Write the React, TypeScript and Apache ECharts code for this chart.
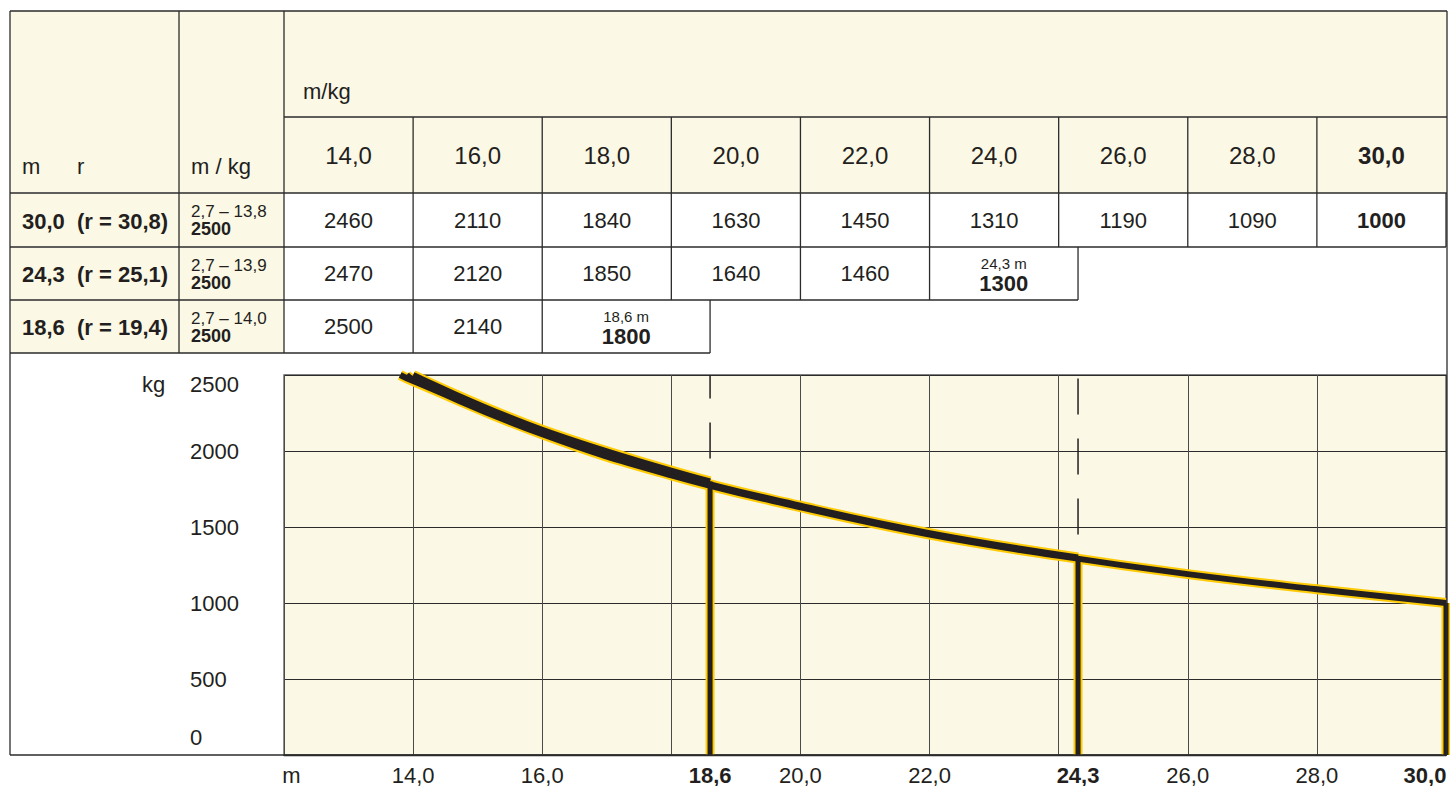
import React, { useEffect, useRef } from 'react';
import * as echarts from 'echarts';

// ---------- data ----------
const distances = [14, 16, 18, 20, 22, 24, 26, 28, 30];
const boomLengths = [30.0, 24.3, 18.6];
const boomRadii = [30.8, 25.1, 19.4];
const rangeStart = 2.7;
const rangeEnds = [13.8, 13.9, 14.0];
const maxLoads = [2500, 2500, 2500];
const loads300 = [2460, 2110, 1840, 1630, 1450, 1310, 1190, 1090, 1000];
const loads243 = [2470, 2120, 1850, 1640, 1460];
const loads186 = [2500, 2140];
const endLoads = [1000, 1300, 1800];
const guideX = [18.6, 24.3];
const guideFrom = [1950, 1450];
const guideTo = [2500, 2500];
const xLabelValues = [12, 14, 16, 18.6, 20, 22, 24.3, 26, 28, 30];
const yMin = 0;
const yMax = 2500;
const xMin = 12;
const xMax = 30;

const loadRows = [loads300, loads243, loads186];

const FONT = '"Liberation Sans", Arial, Helvetica, sans-serif';
const INK = '#231f20';
const LINE = '#2b2b2b';
const CREAM = '#fcf8e6';
const YELLOW = '#ffcb05';

const fmt = (v: number) => v.toFixed(1).replace('.', ',');

function curve(i: number): number[][] {
  const pts: number[][] = [[rangeEnds[i], maxLoads[i]]];
  loadRows[i].forEach((v, j) => {
    if (distances[j] !== pts[pts.length - 1][0]) pts.push([distances[j], v]);
  });
  if (pts[pts.length - 1][0] !== boomLengths[i]) pts.push([boomLengths[i], endLoads[i]]);
  return pts;
}
function drop(i: number): number[][] {
  return [
    [boomLengths[i], endLoads[i]],
    [boomLengths[i], yMin],
  ];
}

function txt(x: number, y: number, text: string, size: number, opts: any = {}) {
  const align = opts.align || 'left';
  return {
    type: 'text',
    x,
    y,
    z: 20,
    silent: true,
    style: {
      text,
      fill: INK,
      fontFamily: FONT,
      fontSize: size,
      fontWeight: opts.bold ? 'bold' : 'normal',
      align,
      textAlign: align,
      verticalAlign: 'middle',
      textVerticalAlign: 'middle',
    },
  };
}
function ln(x1: number, y1: number, x2: number, y2: number) {
  return {
    type: 'line',
    z: 19,
    silent: true,
    shape: { x1, y1, x2, y2 },
    style: { stroke: LINE, lineWidth: 1.3 },
  };
}

export default function App() {
  const ref = useRef<HTMLDivElement>(null);

  useEffect(() => {
    if (!ref.current) return;
    const chart = echarts.init(ref.current, null, { renderer: 'svg' });

    const series: any[] = [];
    const SMOOTH = 0.45;
    [0, 1, 2].forEach((i) => {
      series.push({
        type: 'line',
        data: curve(i),
        smooth: SMOOTH,
        symbol: 'none',
        silent: true,
        z: 3,
        lineStyle: { color: YELLOW, width: 10, cap: 'butt', join: 'round' },
      });
      series.push({
        type: 'line',
        data: drop(i),
        symbol: 'none',
        silent: true,
        z: 3,
        lineStyle: { color: YELLOW, width: 9, cap: 'butt' },
      });
    });
    [0, 1, 2].forEach((i) => {
      series.push({
        type: 'line',
        data: curve(i),
        smooth: SMOOTH,
        symbol: 'none',
        silent: true,
        z: 4,
        lineStyle: { color: INK, width: 6, cap: 'butt', join: 'round' },
      });
      series.push({
        type: 'line',
        data: drop(i),
        symbol: 'none',
        silent: true,
        z: 4,
        lineStyle: { color: INK, width: 5, cap: 'butt' },
      });
    });
    guideX.forEach((gx, k) => {
      series.push({
        type: 'line',
        data: [
          [gx, guideFrom[k]],
          [gx, guideTo[k]],
        ],
        symbol: 'none',
        silent: true,
        z: 5,
        lineStyle: { color: INK, width: 1.5, type: [36, 24] },
      });
    });

    chart.setOption({
      animation: false,
      backgroundColor: '#ffffff',
      textStyle: { fontFamily: FONT, color: INK },
      grid: {
        left: 284,
        right: 4,
        top: 375,
        bottom: 31,
        show: true,
        backgroundColor: CREAM,
        borderColor: '#555',
        borderWidth: 1.3,
      },
      xAxis: {
        type: 'value',
        min: xMin,
        max: xMax,
        interval: 2,
        axisLine: { show: true, lineStyle: { color: LINE, width: 1.3 } },
        axisTick: { show: false },
        splitLine: { show: true, lineStyle: { color: '#4a4a4a', width: 1 } },
        axisLabel: {
          customValues: xLabelValues,
          showMinLabel: true,
          showMaxLabel: true,
          margin: 9,
          fontFamily: FONT,
          fontSize: 22,
          color: INK,
          formatter: (v: number) => {
            if (v === xMin) return '{m|m}';
            if (v === boomLengths[0]) return '{e|' + fmt(v) + '}';
            if (boomLengths.indexOf(v) >= 0) return '{b|' + fmt(v) + '}';
            return '{n|' + fmt(v) + '}';
          },
          rich: {
            m: { fontFamily: FONT, fontSize: 22, color: INK, padding: [0, 0, 0, 15] },
            n: { fontFamily: FONT, fontSize: 22, color: INK },
            b: { fontFamily: FONT, fontSize: 22, color: INK, fontWeight: 'bold' },
            e: { fontFamily: FONT, fontSize: 22, color: INK, fontWeight: 'bold', padding: [0, 42, 0, 0] },
          },
        },
      },
      yAxis: {
        type: 'value',
        min: yMin,
        max: yMax,
        interval: 500,
        axisLine: { show: false },
        axisTick: { show: false },
        splitLine: { show: true, lineStyle: { color: LINE, width: 1 } },
        axisLabel: {
          showMinLabel: false,
          showMaxLabel: false,
          margin: 94,
          align: 'left',
          fontFamily: FONT,
          fontSize: 22,
          color: INK,
          formatter: (v: number) => String(v),
        },
      },
      series,
    });

    const xp = (v: number) => chart.convertToPixel({ xAxisIndex: 0 }, v) as number;
    const yp = (v: number) => chart.convertToPixel({ yAxisIndex: 0 }, v) as number;

    const L = 10;
    const T = 11;
    const R = xp(xMax) + 1;
    const B = yp(yMin);
    const C1 = 179;
    const C2 = xp(xMin);
    const ySub = 117;
    const yHdr = 193;
    const rowTops = [193, 247, 300];
    const rowBottoms = [247, 300, 353];

    const colLeft = [xMin, ...distances.slice(0, -1)].map(xp);
    const colRight = distances.map(xp);

    const g: any[] = [];
    // backgrounds
    g.push({ type: 'rect', z: 1, silent: true, shape: { x: L, y: T, width: R - L, height: yHdr - T }, style: { fill: CREAM } });
    g.push({ type: 'rect', z: 1, silent: true, shape: { x: L, y: yHdr, width: C2 - L, height: rowBottoms[2] - yHdr }, style: { fill: CREAM } });

    // outer frame
    g.push(ln(L, T, R, T));
    g.push(ln(L, T, L, B));
    g.push(ln(R, T, R, B));
    g.push(ln(L, B, R, B));
    // fixed columns
    g.push(ln(C1, T, C1, rowBottoms[2]));
    g.push(ln(C2, T, C2, rowBottoms[2]));
    g.push(ln(C2, ySub, R, ySub));
    g.push(ln(L, yHdr, R, yHdr));
    // header verticals
    colRight.slice(0, -1).forEach((x) => g.push(ln(x, ySub, x, yHdr)));

    // header texts
    g.push(txt(22, 166, 'm', 22));
    g.push(txt(77, 166, 'r', 22));
    g.push(txt(191, 166, 'm / kg', 22));
    g.push(txt(C2 + 19, 91, 'm/kg', 22));
    distances.forEach((d, j) => {
      g.push(txt((colLeft[j] + colRight[j]) / 2, 155, fmt(d), 24, { align: 'center', bold: d === boomLengths[0] }));
    });

    // rows
    [0, 1, 2].forEach((i) => {
      const top = rowTops[i];
      const bot = rowBottoms[i];
      const mid = (top + bot) / 2;
      const row = loadRows[i];
      const full = distances[row.length - 1] === boomLengths[i];
      const rightEnd = full ? colRight[row.length - 1] : xp(boomLengths[i]);
      g.push(ln(L, bot, Math.max(rightEnd, C2), bot));
      g.push(txt(22, mid + 1, fmt(boomLengths[i]) + '\u00a0\u00a0(r = ' + fmt(boomRadii[i]) + ')', 22, { bold: true }));
      g.push(txt(191, top + 18, fmt(rangeStart) + ' \u2013 ' + fmt(rangeEnds[i]), 17));
      g.push(txt(191, top + 35.5, String(maxLoads[i]), 18, { bold: true }));
      row.forEach((v, j) => {
        const isEnd = full && j === row.length - 1;
        g.push(txt((colLeft[j] + colRight[j]) / 2, mid, String(v), 22, { align: 'center', bold: isEnd }));
        g.push(ln(colRight[j], top, colRight[j], bot));
      });
      if (!full) {
        const k = row.length;
        const x0 = colLeft[k];
        const x1 = xp(boomLengths[i]);
        g.push(ln(x1, top, x1, bot));
        g.push(txt((x0 + x1) / 2, top + 16, fmt(boomLengths[i]) + ' m', 15, { align: 'center' }));
        g.push(txt((x0 + x1) / 2, top + 36.5, String(endLoads[i]), 22, { align: 'center', bold: true }));
      }
    });

    // chart axis extras
    g.push(txt(142, yp(yMax) + 9, 'kg', 22));
    g.push(txt(190, yp(yMax) + 9, String(yMax), 22));
    g.push(txt(190, yp(yMin) - 18, String(yMin), 22));

    chart.setOption({ graphic: g });

    return () => {
      chart.dispose();
    };
  }, []);

  return (
    <div
      ref={ref}
      style={{ position: 'absolute', left: 0, top: 0, width: 1450, height: 786 }}
    />
  );
}
